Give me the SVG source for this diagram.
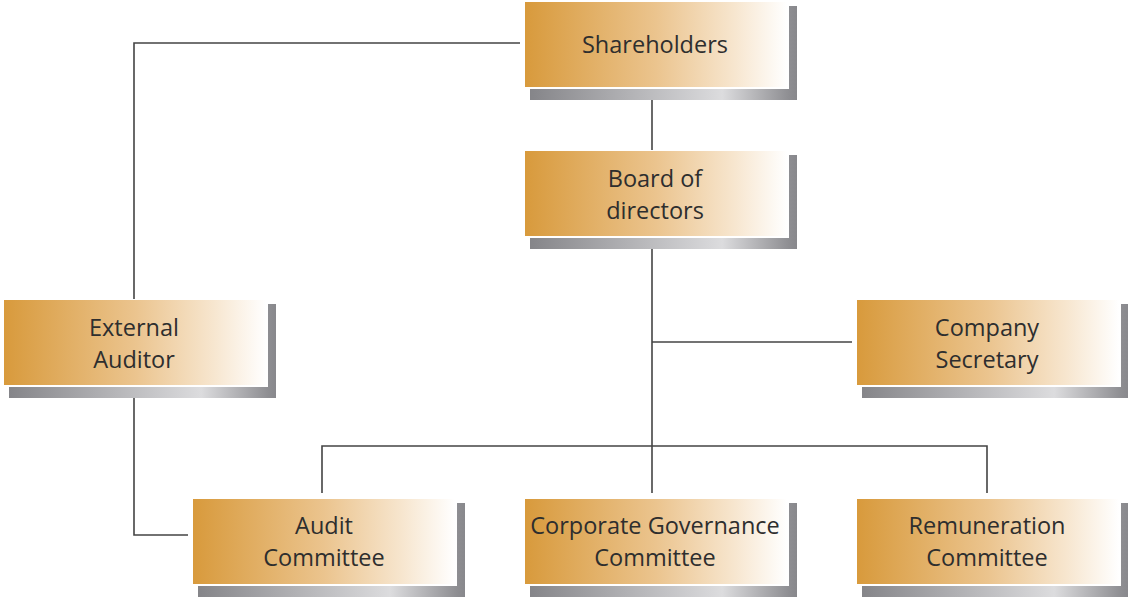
<svg xmlns="http://www.w3.org/2000/svg" width="1128" height="597" viewBox="0 0 1128 597">
  <defs>
    <linearGradient id="boxFill" x1="0" y1="0" x2="1" y2="0">
      <stop offset="0" stop-color="#D89A3C"/>
      <stop offset="0.5" stop-color="#EBC48E"/>
      <stop offset="0.8" stop-color="#F7E6CF"/>
      <stop offset="1" stop-color="#FFFFFF"/>
    </linearGradient>
    <linearGradient id="shadowFill" x1="0" y1="0" x2="1" y2="0">
      <stop offset="0" stop-color="#858589"/>
      <stop offset="0.72" stop-color="#DCDCDE"/>
      <stop offset="0.97" stop-color="#8E8E92"/>
      <stop offset="1" stop-color="#88888C"/>
    </linearGradient>
    <!-- one node: drop shadow, white frame, gradient face -->
    <g id="card">
      <rect x="5" y="4" width="267" height="94" fill="url(#shadowFill)"/>
      <rect x="-1" y="-1" width="265" height="88" fill="#FFFFFF"/>
      <rect x="0" y="0" width="262" height="85" fill="url(#boxFill)"/>
    </g>
  </defs>
  <style>
    .lbl { font-family: "Open Sans", "Noto Sans", "Liberation Sans", sans-serif; font-size: 23.5px; fill: #2E2E2E; text-anchor: middle; }
    .wire { fill: none; stroke: #444444; stroke-width: 1.6; }
  </style>

  <rect width="1128" height="597" fill="#FFFFFF"/>

  <g id="connectors">
    <polyline class="wire" points="520,43 134,43 134,300"/>
    <line class="wire" x1="652" y1="99" x2="652" y2="151"/>
    <line class="wire" x1="652" y1="249" x2="652" y2="493"/>
    <line class="wire" x1="652" y1="342" x2="852" y2="342"/>
    <polyline class="wire" points="322,493 322,446 987,446 987,493"/>
    <polyline class="wire" points="134,398 134,535 188,535"/>
  </g>

  <g id="shareholders">
    <use href="#card" x="525" y="2"/>
    <text class="lbl" x="655" y="53">Shareholders</text>
  </g>

  <g id="board">
    <use href="#card" x="525" y="151"/>
    <text class="lbl" x="655" y="187">Board of</text>
    <text class="lbl" x="655" y="219">directors</text>
  </g>

  <g id="external-auditor">
    <use href="#card" x="4" y="300"/>
    <text class="lbl" x="134" y="336">External</text>
    <text class="lbl" x="134" y="368">Auditor</text>
  </g>

  <g id="company-secretary">
    <use href="#card" x="857" y="300"/>
    <text class="lbl" x="987" y="336">Company</text>
    <text class="lbl" x="987" y="368">Secretary</text>
  </g>

  <g id="audit-committee">
    <use href="#card" x="193" y="499"/>
    <text class="lbl" x="324" y="534">Audit</text>
    <text class="lbl" x="324" y="566">Committee</text>
  </g>

  <g id="corporate-governance">
    <use href="#card" x="525" y="499"/>
    <text class="lbl" x="655" y="534">Corporate Governance</text>
    <text class="lbl" x="655" y="566">Committee</text>
  </g>

  <g id="remuneration-committee">
    <use href="#card" x="857" y="499"/>
    <text class="lbl" x="987" y="534">Remuneration</text>
    <text class="lbl" x="987" y="566">Committee</text>
  </g>
</svg>
